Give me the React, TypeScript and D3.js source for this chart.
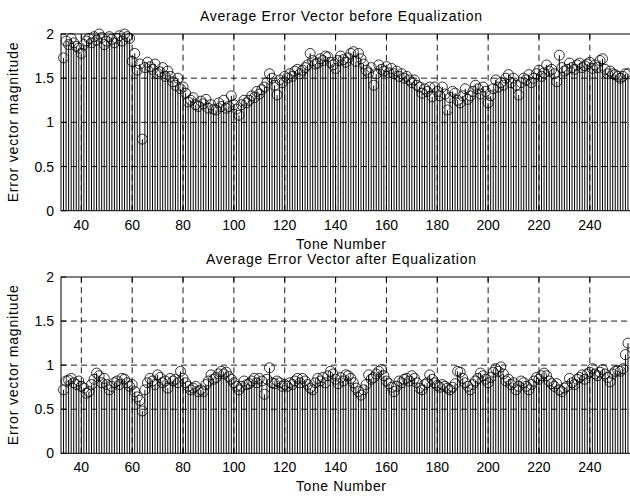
import React from "react";
import * as d3 from "d3";

const firstTone = 33;
const before = [
  1.73, 1.92, 1.88, 1.95, 1.90, 1.86, 1.84, 1.78, 1.88, 1.92,
  1.95, 1.90, 1.97, 1.93, 2.00, 1.96, 1.88, 1.92, 1.97, 1.94,
  1.90, 1.95, 1.98, 1.92, 2.00, 1.97, 1.95, 1.69, 1.78, 1.59,
  1.66, 0.81, 1.62, 1.68, 1.63, 1.60, 1.66, 1.55, 1.57, 1.62,
  1.52, 1.58, 1.52, 1.46, 1.42, 1.50, 1.38, 1.40, 1.33, 1.23,
  1.25, 1.28, 1.20, 1.18, 1.24, 1.21, 1.26, 1.16, 1.20, 1.15,
  1.14, 1.22, 1.18, 1.25, 1.16, 1.18, 1.30, 1.20, 1.15, 1.08,
  1.20, 1.25, 1.22, 1.25, 1.30, 1.28, 1.35, 1.32, 1.37, 1.40,
  1.45, 1.55, 1.50, 1.42, 1.31, 1.48, 1.45, 1.52, 1.50, 1.55,
  1.52, 1.58, 1.60, 1.55, 1.59, 1.62, 1.65, 1.78, 1.70, 1.66,
  1.67, 1.72, 1.70, 1.75, 1.74, 1.68, 1.65, 1.61, 1.70, 1.75,
  1.71, 1.68, 1.73, 1.78, 1.80, 1.69, 1.78, 1.72, 1.66, 1.59,
  1.56, 1.62, 1.42, 1.55, 1.65, 1.60, 1.58, 1.63, 1.56, 1.61,
  1.55, 1.58, 1.52, 1.55, 1.50, 1.52, 1.48, 1.45, 1.48, 1.42,
  1.40, 1.33, 1.38, 1.35, 1.40, 1.29, 1.40, 1.35, 1.30, 1.40,
  1.32, 1.14, 1.28, 1.35, 1.33, 1.25, 1.22, 1.30, 1.38, 1.26,
  1.30, 1.35, 1.42, 1.38, 1.32, 1.40, 1.35, 1.22, 1.30, 1.38,
  1.48, 1.40, 1.45, 1.42, 1.50, 1.54, 1.45, 1.50, 1.42, 1.31,
  1.45, 1.50, 1.48, 1.54, 1.45, 1.50, 1.55, 1.59, 1.52, 1.56,
  1.65, 1.58, 1.60, 1.55, 1.46, 1.76, 1.62, 1.58, 1.60, 1.67,
  1.62, 1.60, 1.65, 1.67, 1.62, 1.64, 1.66, 1.68, 1.61, 1.65,
  1.62, 1.70, 1.72, 1.60, 1.55, 1.58, 1.55, 1.54, 1.52, 1.50,
  1.52, 1.55, 1.55,
];
const after = [
  0.72, 0.82, 0.83, 0.85, 0.80, 0.78, 0.82, 0.76, 0.74, 0.68,
  0.70, 0.78, 0.84, 0.91, 0.88, 0.80, 0.85, 0.78, 0.72, 0.76,
  0.80, 0.82, 0.78, 0.85, 0.84, 0.80, 0.76, 0.78, 0.70, 0.64,
  0.60, 0.48, 0.72, 0.80, 0.85, 0.82, 0.78, 0.89, 0.86, 0.80,
  0.82, 0.74, 0.85, 0.82, 0.84, 0.80, 0.93, 0.85, 0.80, 0.76,
  0.72, 0.74, 0.76, 0.70, 0.72, 0.70, 0.78, 0.82, 0.89, 0.84,
  0.86, 0.90, 0.93, 0.90, 0.92, 0.87, 0.84, 0.80, 0.76, 0.72,
  0.76, 0.82, 0.78, 0.79, 0.82, 0.85, 0.80, 0.85, 0.82, 0.67,
  0.84, 0.97, 0.80, 0.79, 0.82, 0.80, 0.76, 0.78, 0.76, 0.80,
  0.78, 0.82, 0.85, 0.80, 0.85, 0.82, 0.78, 0.74, 0.72, 0.80,
  0.85, 0.82, 0.86, 0.80, 0.88, 0.93, 0.90, 0.84, 0.79, 0.86,
  0.82, 0.89, 0.88, 0.85, 0.80, 0.74, 0.70, 0.66, 0.72, 0.78,
  0.89, 0.84, 0.86, 0.90, 0.93, 0.95, 0.88, 0.82, 0.79, 0.75,
  0.70, 0.76, 0.82, 0.80, 0.84, 0.85, 0.82, 0.88, 0.85, 0.80,
  0.74, 0.72, 0.78, 0.80, 0.89, 0.84, 0.80, 0.77, 0.75, 0.78,
  0.76, 0.74, 0.72, 0.75, 0.79, 0.93, 0.92, 0.85, 0.80, 0.76,
  0.72, 0.78, 0.82, 0.85, 0.91, 0.88, 0.84, 0.80, 0.86, 0.92,
  0.96, 0.93, 0.98, 0.90, 0.82, 0.84, 0.78, 0.80, 0.72, 0.76,
  0.82, 0.80, 0.76, 0.72, 0.78, 0.82, 0.86, 0.84, 0.88, 0.91,
  0.88, 0.82, 0.79, 0.76, 0.79, 0.72, 0.70, 0.74, 0.76, 0.85,
  0.80, 0.78, 0.84, 0.86, 0.89, 0.84, 0.90, 0.92, 0.96, 0.90,
  0.88, 0.92, 0.95, 0.90, 0.86, 0.81, 0.90, 0.93, 0.94, 0.93,
  0.96, 1.12, 1.25,
];
const xTicks = [40, 60, 80, 100, 120, 140, 160, 180, 200, 220, 240];
const yTicks = [0, 0.5, 1, 1.5, 2];
const titles = ["Average Error Vector before Equalization", "Average Error Vector after Equalization"];
const xLabel = "Tone Number";
const yLabel = "Error vector magnitude";

const FONT = "'Liberation Sans', Arial, Helvetica, sans-serif";
const W = 630;
const H = 497;
const left = 61;
const right = 630.5;

function Panel({ top, bottom, values, title, titleLen }: { top: number; bottom: number; values: number[]; title: string; titleLen: number }) {
  const x = d3.scaleLinear().domain([32, 256]).range([left, right]);
  const y = d3.scaleLinear().domain([0, 2]).range([bottom, top]);
  const tk = 5;
  const gridDash = "6,4";
  return (
    <g>
      {values.map((v, i) => (
        <line key={"s" + i} x1={x(firstTone + i)} x2={x(firstTone + i)} y1={y(0)} y2={y(v)} stroke="#000" strokeWidth={1} />
      ))}
      {xTicks.map((t) => (
        <line key={"gx" + t} x1={x(t)} x2={x(t)} y1={y(0)} y2={y(2)} stroke="#000" strokeWidth={0.9} strokeDasharray={gridDash} />
      ))}
      {yTicks.filter((t) => t > 0 && t < 2).map((t) => (
        <line key={"gy" + t} x1={left} x2={right} y1={y(t)} y2={y(t)} stroke="#000" strokeWidth={0.9} strokeDasharray={gridDash} />
      ))}
      {values.map((v, i) => (
        <circle key={"c" + i} cx={x(firstTone + i)} cy={y(v)} r={5} fill="none" stroke="#000" strokeWidth={0.8} />
      ))}
      <rect x={left} y={top} width={right - left} height={bottom - top} fill="none" stroke="#000" strokeWidth={1} />
      {xTicks.map((t) => (
        <g key={"tx" + t}>
          <line x1={x(t)} x2={x(t)} y1={bottom} y2={bottom - tk} stroke="#000" strokeWidth={1} />
          <line x1={x(t)} x2={x(t)} y1={top} y2={top + tk} stroke="#000" strokeWidth={1} />
          <text x={x(t)} y={bottom + 19} textAnchor="middle" fontSize={14} fontFamily={FONT} fill="#000">{t}</text>
        </g>
      ))}
      {yTicks.map((t) => (
        <g key={"ty" + t}>
          <line x1={left} x2={left + tk} y1={y(t)} y2={y(t)} stroke="#000" strokeWidth={1} />
          <text x={54} y={y(t) + 5} textAnchor="end" fontSize={14} fontFamily={FONT} fill="#000">{t}</text>
        </g>
      ))}
      <text x={341} y={top - 13} textAnchor="middle" fontSize={14} fontFamily={FONT} fill="#000" textLength={titleLen} lengthAdjust="spacing">{title}</text>
      <text x={341} y={bottom + 38} textAnchor="middle" fontSize={14} fontFamily={FONT} fill="#000" textLength={90} lengthAdjust="spacing">{xLabel}</text>
      <text transform={`translate(18,${(top + bottom) / 2}) rotate(-90)`} textAnchor="middle" fontSize={14} fontFamily={FONT} fill="#000" textLength={160} lengthAdjust="spacing">{yLabel}</text>
    </g>
  );
}

export default function App() {
  return (
    <svg width={W} height={H} style={{ position: "absolute", left: 0, top: 0, background: "#fff" }}>
      <rect width={W} height={H} fill="#fff" />
      <Panel top={34} bottom={210.7} values={before} title={titles[0]} titleLen={282} />
      <Panel top={277} bottom={453.3} values={after} title={titles[1]} titleLen={270} />
    </svg>
  );
}
